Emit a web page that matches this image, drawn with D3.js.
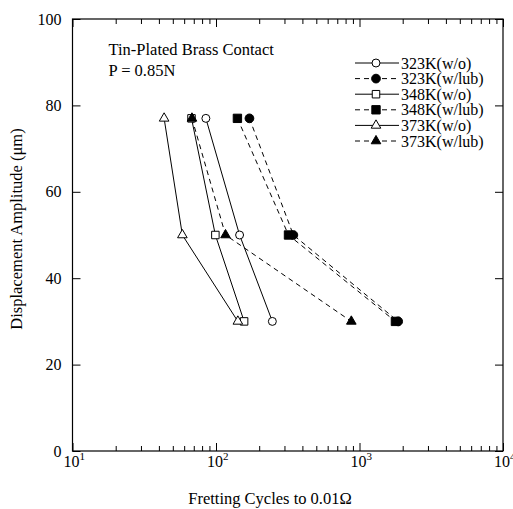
<!DOCTYPE html>
<html>
<head>
<meta charset="utf-8">
<script src="https://cdn.jsdelivr.net/npm/d3@7"></script>
<style>
  body { margin: 0; background: #fff; }
  svg text { font-family: "Liberation Serif", "Times New Roman", serif; fill: #000; }
</style>
</head>
<body>
<div id="chart"></div>
<script>
// Displacement amplitude levels (um)
var amplitudes = [77, 50, 30];

// Fretting cycles for each series, one value per amplitude
var seriesNames = ["323K(w/o)", "323K(w/lub)", "348K(w/o)", "348K(w/lub)", "373K(w/o)", "373K(w/lub)"];
var cycles323wo  = [85, 146, 247];
var cycles323lub = [171, 346, 1860];
var cycles348wo  = [67.5, 99, 157];
var cycles348lub = [141, 320, 1780];
var cycles373wo  = [43.5, 58.3, 142];
var cycles373lub = [68, 116.5, 877];

var xMajorTicks = [10, 100, 1000, 10000];
var xTickExponents = ["1", "2", "3", "4"];
var yTicks = [0, 20, 40, 60, 80, 100];

function drawChart() {
    var W = 513, H = 509;
    var margin = { top: 19, right: 10, bottom: 58, left: 72.5 };
    var width = W - margin.left - margin.right,
        height = H - margin.top - margin.bottom;

    var svg = d3.select("#chart").append("svg")
        .attr("width", W)
        .attr("height", H);

    var g = svg.append("g")
        .attr("transform", `translate(${margin.left},${margin.top})`);

    var x = d3.scaleLog().domain([10, 10000]).range([0, width]);
    var y = d3.scaleLinear().domain([0, 100]).range([height, 0]);

    // minor ticks: 2..9 in every decade
    var xMinor = [];
    for (var d = 10; d < 10000; d *= 10) {
        for (var k = 2; k <= 9; k++) xMinor.push(d * k);
    }

    function styleAxis(sel) {
        sel.select(".domain").remove();
        sel.selectAll("line").attr("stroke", "#000").attr("stroke-width", 1);
        sel.selectAll("text").remove();
    }

    // major & minor ticks, all pointing inward
    g.append("g").attr("transform", `translate(0,${height})`)
        .call(d3.axisBottom(x).tickValues(xMajorTicks).tickSize(-8)).call(styleAxis);
    g.append("g").attr("transform", `translate(0,${height})`)
        .call(d3.axisBottom(x).tickValues(xMinor).tickSize(-5)).call(styleAxis);
    g.append("g")
        .call(d3.axisTop(x).tickValues(xMajorTicks).tickSize(-8)).call(styleAxis);
    g.append("g")
        .call(d3.axisTop(x).tickValues(xMinor).tickSize(-5)).call(styleAxis);
    g.append("g")
        .call(d3.axisLeft(y).tickValues(yTicks).tickSize(-8)).call(styleAxis);
    g.append("g").attr("transform", `translate(${width},0)`)
        .call(d3.axisRight(y).tickValues(yTicks).tickSize(-8)).call(styleAxis);

    // frame
    g.append("rect")
        .attr("width", width).attr("height", height)
        .attr("fill", "none").attr("stroke", "#000").attr("stroke-width", 1.2);

    // y tick labels
    g.selectAll(".ylab").data(yTicks).enter().append("text")
        .attr("x", -11)
        .attr("y", d => y(d) + 5.5)
        .attr("text-anchor", "end")
        .style("font-size", "16px")
        .text(d => d);

    // x tick labels, 10 with superscript exponent
    var xl = g.selectAll(".xlab").data(xMajorTicks).enter().append("text")
        .attr("x", d => x(d) - 9)
        .attr("y", height + 16)
        .style("font-size", "16px");
    xl.append("tspan").text("10");
    xl.append("tspan").attr("dy", -7).style("font-size", "11px")
        .text((d, i) => xTickExponents[i]);

    // axis titles
    svg.append("text")
        .attr("x", 270).attr("y", 504)
        .attr("text-anchor", "middle")
        .style("font-size", "16.5px")
        .text("Fretting Cycles to 0.01\u03A9");
    svg.append("text")
        .attr("transform", "translate(22,229) rotate(-90)")
        .attr("text-anchor", "middle")
        .style("font-size", "16.5px")
        .text("Displacement Amplitude (\u03BCm)");

    // annotation
    g.append("text").attr("x", 36).attr("y", 36)
        .style("font-size", "16.5px").text("Tin-Plated Brass Contact");
    g.append("text").attr("x", 36).attr("y", 57)
        .style("font-size", "16.5px").text("P = 0.85N");

    var seriesValues = [cycles323wo, cycles323lub, cycles348wo, cycles348lub, cycles373wo, cycles373lub];
    var shapes = [d3.symbolCircle, d3.symbolCircle, d3.symbolSquare, d3.symbolSquare, d3.symbolTriangle, d3.symbolTriangle];
    var filled = [false, true, false, true, false, true];
    var sizes = [50, 60, 56, 70, 40, 40];

    var series = seriesNames.map((name, i) => ({
        name: name,
        shape: shapes[i],
        filled: filled[i],
        size: sizes[i],
        points: seriesValues[i].map((v, j) => ({ c: v, a: amplitudes[j] }))
    }));

    var line = d3.line().x(d => x(d.c)).y(d => y(d.a));

    // lines first
    g.selectAll(".series-line").data(series).enter().append("path")
        .attr("class", "series-line")
        .attr("d", d => line(d.points))
        .attr("fill", "none")
        .attr("stroke", "#000")
        .attr("stroke-width", 1)
        .attr("stroke-dasharray", d => d.filled ? "5,4" : null);

    // markers
    series.forEach(s => {
        g.selectAll(null).data(s.points).enter().append("path")
            .attr("transform", d => `translate(${x(d.c)},${y(d.a)})`)
            .attr("d", d3.symbol().type(s.shape).size(s.size))
            .attr("fill", s.filled ? "#000" : "#fff")
            .attr("stroke", "#000")
            .attr("stroke-width", 1);
    });

    // legend
    var legend = svg.append("g").attr("transform", "translate(355,63)");
    var rows = legend.selectAll(".row").data(series).enter().append("g")
        .attr("transform", (d, i) => `translate(0,${i * 15.6})`);
    rows.append("line")
        .attr("x1", 0).attr("x2", 44).attr("y1", 0).attr("y2", 0)
        .attr("stroke", "#000").attr("stroke-width", 1)
        .attr("stroke-dasharray", d => d.filled ? "5,4" : null);
    rows.append("path")
        .attr("transform", "translate(21,0)")
        .attr("d", d => d3.symbol().type(d.shape).size(d.size)())
        .attr("fill", d => d.filled ? "#000" : "#fff")
        .attr("stroke", "#000");
    rows.append("text")
        .attr("x", 46).attr("y", 5.5)
        .style("font-size", "16px")
        .text(d => d.name);
}

drawChart();
</script>
</body>
</html>
